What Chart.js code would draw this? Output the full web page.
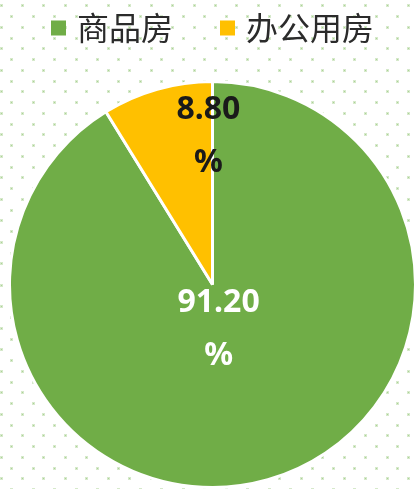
<!DOCTYPE html>
<html>
<head>
<meta charset="utf-8">
<script src="https://cdn.jsdelivr.net/npm/chart.js@4"></script>
<style>
  body { margin: 0; background: #ffffff; }
  #wrap { width: 418px; height: 489px; position: relative; }
</style>
</head>
<body>
<div id="wrap"><canvas id="myChart"></canvas></div>
<script>
// Datos del gráfico
var categorias = ['商品房', '办公用房'];
var valores = [91.2, 8.8];
var colores = ['#70AD47', '#FFC000'];
var coloresTexto = ['#ffffff', '#1a1a1a'];

var ctx = document.getElementById('myChart').getContext('2d');

// Fondo con puntos verdes claros
var fondoPuntos = {
  id: 'fondoPuntos',
  beforeDraw: function(chart) {
    var c = chart.ctx;
    c.save();
    c.fillStyle = '#ffffff';
    c.fillRect(0, 0, chart.width, chart.height);
    var dx = 21.45, dy = 10.75;
    for (var k = 0; k * dy < chart.height + dy; k++) {
      var y = 5.3 + k * dy;
      var off = (k % 2) ? dx / 2 : 0;
      for (var x = 0.5 + off - dx; x < chart.width + dx; x += dx) {
        c.fillStyle = 'rgba(180,215,160,0.55)';
        c.fillRect(Math.round(x) - 1, Math.round(y) - 1, 3, 3);
        c.fillStyle = 'rgba(160,205,135,0.8)';
        c.fillRect(Math.round(x), Math.round(y), 1, 1);
      }
    }
    c.restore();
  }
};

// Leyenda dibujada a mano arriba
var leyenda = {
  id: 'leyenda',
  afterDraw: function(chart) {
    var c = chart.ctx;
    var area = chart.chartArea;
    c.save();
    c.font = '32px "Noto Sans CJK SC"';
    c.textBaseline = 'middle';
    var caja = 15, hueco = 11, sep = 47;
    var anchos = categorias.map(function(t) { return caja + hueco + c.measureText(t).width; });
    var total = anchos.reduce(function(a, b) { return a + b; }, 0) + sep * (categorias.length - 1);
    var x = (area.left + area.right) / 2 - total / 2;
    var y = 28;
    for (var i = 0; i < categorias.length; i++) {
      c.fillStyle = colores[i];
      c.fillRect(x, y - 7.5, caja, caja);
      c.fillStyle = '#2b2b2b';
      c.fillText(categorias[i], x + caja + hueco, y);
      x += anchos[i] + sep;
    }
    c.restore();
  }
};

// Etiquetas de porcentaje dentro de los sectores
var etiquetas = {
  id: 'etiquetas',
  afterDatasetsDraw: function(chart, args, opts) {
    var c = chart.ctx;
    var arcos = chart.getDatasetMeta(0).data;
    c.save();
    c.font = 'bold 32px "Noto Sans"';
    c.textAlign = 'center';
    c.textBaseline = 'middle';
    arcos.forEach(function(arco, i) {
      var r = arco.outerRadius;
      var px = arco.x + opts.desplaz[i][0] * r;
      var py = arco.y + opts.desplaz[i][1] * r;
      c.fillStyle = coloresTexto[i];
      c.fillText(valores[i].toFixed(2), px, py - 26);
      c.fillText('%', px, py + 27);
    });
    c.restore();
  }
};

new Chart(ctx, {
  type: 'pie',
  data: {
    labels: categorias,
    datasets: [{
      data: valores,
      backgroundColor: colores,
      borderColor: '#ffffff',
      borderWidth: 3
    }]
  },
  options: {
    responsive: true,
    maintainAspectRatio: false,
    animation: false,
    layout: { padding: { top: 80, left: 7, right: -3, bottom: 0 } },
    plugins: {
      legend: { display: false },
      tooltip: { enabled: false },
      etiquetas: { desplaz: [[0.03, 0.22], [-0.02, -0.73]] }
    }
  },
  plugins: [fondoPuntos, leyenda, etiquetas]
});
</script>
</body>
</html>
